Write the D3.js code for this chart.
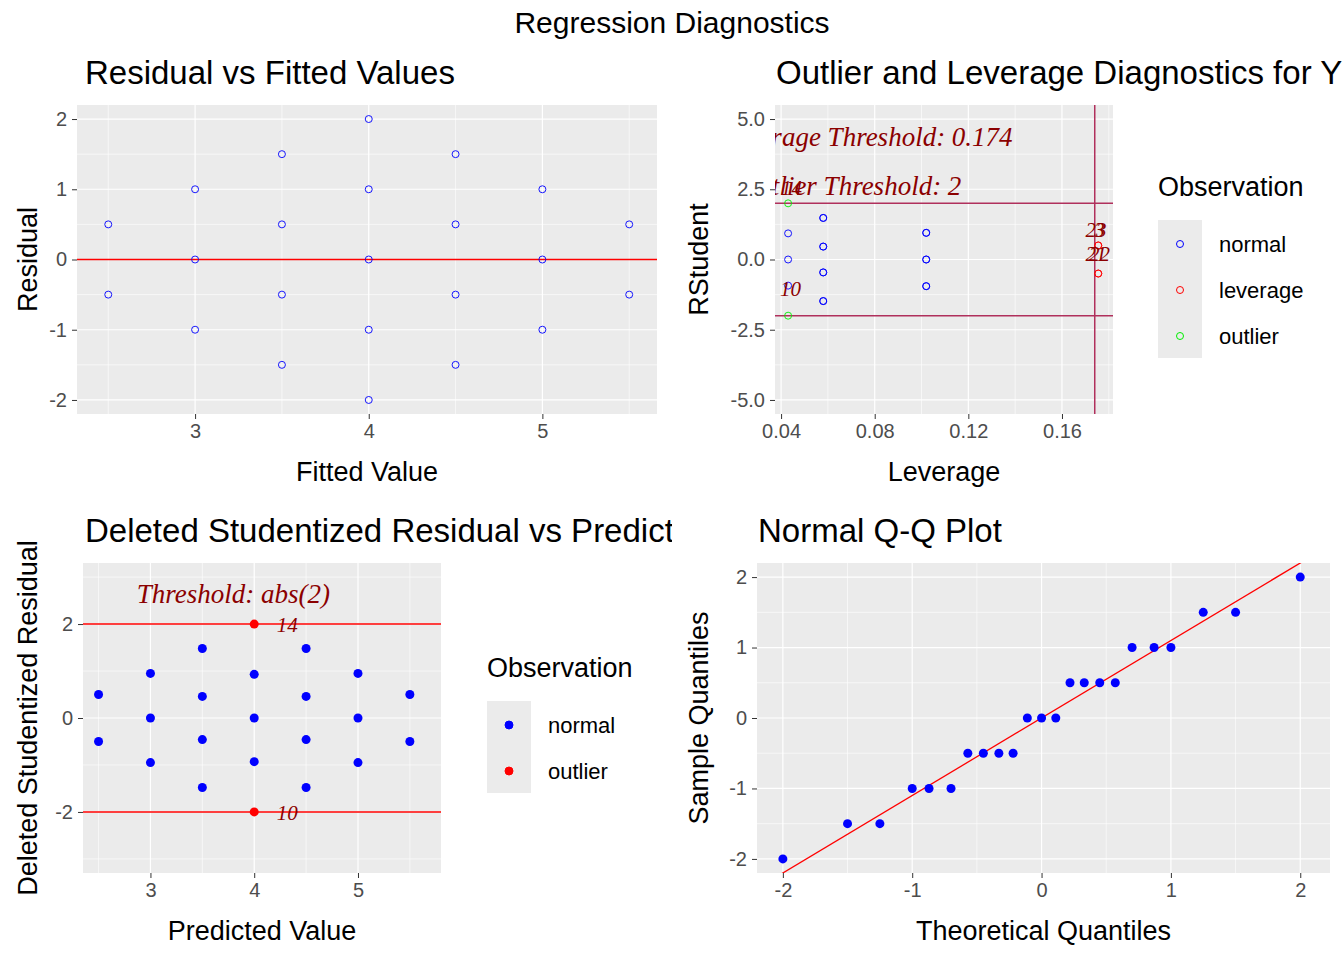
<!DOCTYPE html>
<html><head><meta charset="utf-8">
<script src="https://cdn.jsdelivr.net/npm/d3@7"></script>
<style>body{margin:0;background:#fff}svg{font-family:"Liberation Sans",Arial,sans-serif}</style>
</head><body><svg width="1344" height="960"></svg>
<script>
// observations: fitted value and residual
const fitted = [2.5,2.5,3,3,3,3.5,3.5,3.5,3.5,4,4,4,4,4,4.5,4.5,4.5,4.5,5,5,5,5.5,5.5];
const residual = [0.5,-0.5,1,0,-1,1.5,0.5,-0.5,-1.5,2,1,0,-1,-2,1.5,0.5,-0.5,-1.5,1,0,-1,0.5,-0.5];
const leverage = [0.1755,0.1755,0.102,0.102,0.102,0.058,0.058,0.058,0.058,0.043,0.043,0.043,0.043,0.043,0.058,0.058,0.058,0.058,0.102,0.102,0.102,0.1755,0.1755];
const rstudent = [0.5,-0.5,0.95,0,-0.95,1.48,0.46,-0.46,-1.48,2.0,0.93,0,-0.93,-2.0,1.48,0.46,-0.46,-1.48,0.95,0,-0.95,0.5,-0.5];
const obsId = [21,22,3,4,5,6,7,8,9,14,11,12,13,10,15,16,17,18,19,20,1,23,2];
const levLabels = [{id:"23",x:0.1745,y:1.05},{id:"3",x:0.176,y:1.05},{id:"21",x:0.1745,y:0.2},{id:"22",x:0.176,y:0.2},{id:"14",x:0.0445,y:2.55},{id:"10",x:0.044,y:-1.05}];
const theoQ = [-2.0,-1.5,-1.25,-1.0,-0.87,-0.7,-0.57,-0.45,-0.33,-0.22,-0.11,0,0.11,0.22,0.33,0.45,0.57,0.7,0.87,1.0,1.25,1.5,2.0];
const levThreshold = 0.174, outThreshold = 2, qqSlope = 1.1;

const svg = d3.select("svg");
const defs = svg.append("defs");
svg.append("text").attr("x",672).attr("y",33).attr("text-anchor","middle").attr("font-size",30).text("Regression Diagnostics");

let clipN = 0;
function clip(x,y,w,h){const id="c"+(clipN++);defs.append("clipPath").attr("id",id).append("rect").attr("x",x).attr("y",y).attr("width",w).attr("height",h);return `url(#${id})`;}
const hy = f => v => f(v).replace("\u2212","-");

function panel(o){
  const g = svg.append("g");
  const x = d3.scaleLinear().domain(o.xd).range([o.l,o.r]);
  const y = d3.scaleLinear().domain(o.yd).range([o.b,o.t]);
  g.append("text").attr("clip-path",clip(o.cx,0,672,960)).attr("x",o.l+(o.tdx||8)).attr("y",o.t-21).attr("font-size",33).text(o.title);
  g.append("rect").attr("x",o.l).attr("y",o.t).attr("width",o.r-o.l).attr("height",o.b-o.t).attr("fill","#ebebeb");
  o.xmin.forEach(v=>g.append("line").attr("x1",x(v)).attr("x2",x(v)).attr("y1",o.t).attr("y2",o.b).attr("stroke","#fff").attr("stroke-width",0.6));
  o.ymin.forEach(v=>g.append("line").attr("y1",y(v)).attr("y2",y(v)).attr("x1",o.l).attr("x2",o.r).attr("stroke","#fff").attr("stroke-width",0.6));
  g.append("g").attr("transform",`translate(0,${o.b})`).call(d3.axisBottom(x).tickValues(o.xt).tickFormat(hy(o.xf)).tickSize(5).tickPadding(5))
   .call(a=>{a.select(".domain").remove();a.selectAll("text").attr("font-size",20).attr("fill","#4d4d4d");a.selectAll("line").attr("stroke","#333");});
  g.append("g").attr("transform",`translate(${o.l},0)`).call(d3.axisLeft(y).tickValues(o.yt).tickFormat(hy(o.yf)).tickSize(5).tickPadding(5))
   .call(a=>{a.select(".domain").remove();a.selectAll("text").attr("font-size",20).attr("fill","#4d4d4d");a.selectAll("line").attr("stroke","#333");});
  o.xt.forEach(v=>g.append("line").attr("x1",x(v)).attr("x2",x(v)).attr("y1",o.t).attr("y2",o.b).attr("stroke","#fff").attr("stroke-width",1.2));
  o.yt.forEach(v=>g.append("line").attr("y1",y(v)).attr("y2",y(v)).attr("x1",o.l).attr("x2",o.r).attr("stroke","#fff").attr("stroke-width",1.2));
  g.append("text").attr("x",(o.l+o.r)/2).attr("y",o.b+67).attr("text-anchor","middle").attr("font-size",27).text(o.xlab);
  g.append("text").attr("transform",`translate(${o.ylx},${(o.t+o.b)/2}) rotate(-90)`).attr("text-anchor","middle").attr("font-size",27).text(o.ylab);
  const inner = g.append("g").attr("clip-path",clip(o.l,o.t,o.r-o.l,o.b-o.t));
  return {x,y,g,inner};
}

function legend(g,x0,y0,items,filled){
  g.append("text").attr("x",x0).attr("y",y0).attr("font-size",27).text("Observation");
  items.forEach((it,i)=>{
    const cy = y0+48+i*46;
    g.append("rect").attr("x",x0).attr("y",cy-24).attr("width",44).attr("height",46).attr("fill","#ebebeb");
    g.append("circle").attr("cx",x0+22).attr("cy",cy).attr("r",filled?4:3.5)
      .attr("fill",filled?it[1]:"none").attr("stroke",it[1]);
    g.append("text").attr("x",x0+61).attr("y",cy+8).attr("font-size",22).text(it[0]);
  });
}
const serif = "'Liberation Serif','Times New Roman',serif";
function note(sel,x,y,txt,size){
  return sel.append("text").attr("x",x).attr("y",y).attr("text-anchor","middle").style("font-family",serif).style("font-style","italic").attr("font-size",size).attr("fill","#8b0000").text(txt);
}

// Panel 1
const p1 = panel({l:77,r:657,t:105,b:414,cx:0,xd:[2.32,5.66],yd:[-2.2,2.2],xt:[3,4,5],yt:[-2,-1,0,1,2],xmin:[2.5,3.5,4.5,5.5],ymin:[-1.5,-0.5,0.5,1.5],
  xf:d3.format("d"),yf:d3.format("d"),title:"Residual vs Fitted Values",xlab:"Fitted Value",ylab:"Residual",ylx:37});
p1.inner.append("line").attr("x1",77).attr("x2",657).attr("y1",p1.y(0)).attr("y2",p1.y(0)).attr("stroke","red").attr("stroke-width",1.3);
p1.inner.selectAll("circle").data(fitted).join("circle").attr("cx",d=>p1.x(d)).attr("cy",(d,i)=>p1.y(residual[i])).attr("r",3.5).attr("fill","none").attr("stroke","blue").attr("stroke-width",0.9);

// Panel 2
const p2 = panel({l:775,r:1113,t:105,b:414,cx:672,xd:[0.0374,0.1818],yd:[-5.5,5.5],xt:[0.04,0.08,0.12,0.16],yt:[-5,-2.5,0,2.5,5],xmin:[0.06,0.1,0.14,0.18],ymin:[-3.75,-1.25,1.25,3.75],
  xf:d3.format(".2f"),yf:d3.format(".1f"),title:"Outlier and Leverage Diagnostics for Y",tdx:1,xlab:"Leverage",ylab:"RStudent",ylx:708});
const lc = "#b0305c";
[outThreshold,-outThreshold].forEach(v=>p2.inner.append("line").attr("x1",775).attr("x2",1113).attr("y1",p2.y(v)).attr("y2",p2.y(v)).attr("stroke",lc).attr("stroke-width",1.5));
p2.inner.append("line").attr("x1",p2.x(levThreshold)).attr("x2",p2.x(levThreshold)).attr("y1",105).attr("y2",414).attr("stroke",lc).attr("stroke-width",1.5);
p2.inner.selectAll("circle").data(leverage).join("circle").attr("cx",d=>p2.x(d)).attr("cy",(d,i)=>p2.y(rstudent[i])).attr("r",3.5).attr("fill","none").attr("stroke-width",0.9)
  .attr("stroke",(d,i)=>d>levThreshold?"red":Math.abs(rstudent[i])>=outThreshold?"#00ee00":"blue");
note(p2.inner,p2.x(0.0765),p2.y(4.35)+9,"Leverage Threshold: "+levThreshold,27);
note(p2.inner,p2.x(0.0695),p2.y(2.6)+9,"Outlier Threshold: "+outThreshold,27);
levLabels.forEach(d=>note(p2.inner,p2.x(d.x),p2.y(d.y)+7,d.id,21));
legend(svg,1158,196,[["normal","blue"],["leverage","red"],["outlier","#00ee00"]],false);

// Panel 3
const p3 = panel({l:83,r:441,t:563,b:873,cx:0,xd:[2.35,5.8],yd:[-3.3,3.3],xt:[3,4,5],yt:[-2,0,2],xmin:[2.5,3.5,4.5,5.5],ymin:[-3,-1,1,3],
  xf:d3.format("d"),yf:d3.format("d"),title:"Deleted Studentized Residual vs Predicted Values",tdx:2,xlab:"Predicted Value",ylab:"Deleted Studentized Residual",ylx:37});
[outThreshold,-outThreshold].forEach(v=>p3.inner.append("line").attr("x1",83).attr("x2",441).attr("y1",p3.y(v)).attr("y2",p3.y(v)).attr("stroke","red").attr("stroke-width",1.5));
p3.inner.selectAll("circle").data(fitted).join("circle").attr("cx",d=>p3.x(d)).attr("cy",(d,i)=>p3.y(rstudent[i])).attr("r",4.5)
  .attr("fill",(d,i)=>Math.abs(rstudent[i])>=outThreshold?"red":"blue");
note(p3.inner,p3.x(3.8),p3.y(2.65)+9,"Threshold: abs(2)",27);
fitted.forEach((d,i)=>{ if(Math.abs(rstudent[i])>=outThreshold) note(p3.inner,p3.x(d)+33,p3.y(rstudent[i])+8,obsId[i],21);});
legend(svg,487,677,[["normal","blue"],["outlier","red"]],true);

// Panel 4
const p4 = panel({l:757,r:1330,t:563,b:873,cx:672,xd:[-2.2,2.23],yd:[-2.2,2.2],xt:[-2,-1,0,1,2],yt:[-2,-1,0,1,2],xmin:[-1.5,-0.5,0.5,1.5],ymin:[-1.5,-0.5,0.5,1.5],
  xf:d3.format("d"),yf:d3.format("d"),title:"Normal Q-Q Plot",tdx:1,xlab:"Theoretical Quantiles",ylab:"Sample Quantiles",ylx:708});
const sample = residual.slice().sort(d3.ascending);
p4.inner.append("line").attr("x1",p4.x(-2.3)).attr("y1",p4.y(-2.3*qqSlope)).attr("x2",p4.x(2.3)).attr("y2",p4.y(2.3*qqSlope)).attr("stroke","red").attr("stroke-width",1.3);
p4.inner.selectAll("circle").data(theoQ).join("circle").attr("cx",d=>p4.x(d)).attr("cy",(d,i)=>p4.y(sample[i])).attr("r",4.5).attr("fill","blue");
</script></body></html>
